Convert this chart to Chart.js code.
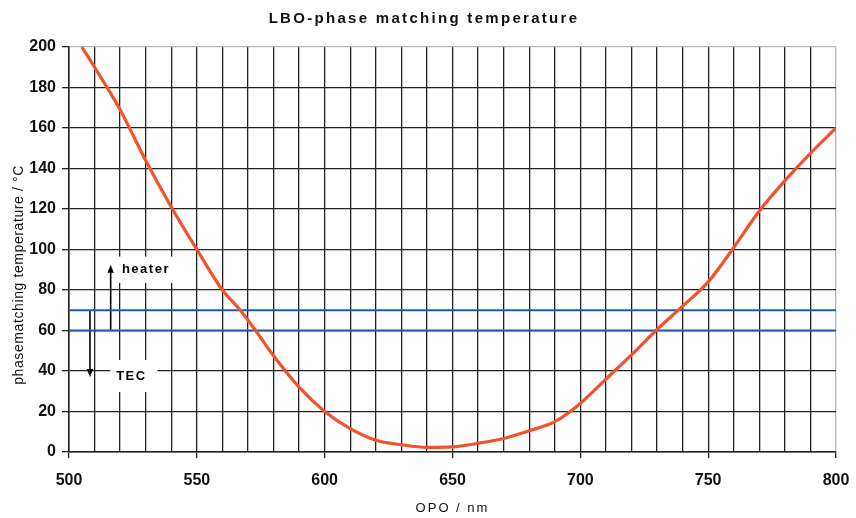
<!DOCTYPE html>
<html>
<head>
<meta charset="utf-8">
<title>LBO-phase matching temperature</title>
<script src="https://cdn.jsdelivr.net/npm/chart.js@4.4.1/dist/chart.umd.min.js"></script>
<style>
    body{ margin:0; background:#fff; }
    #wrap{ width:856px; height:518px; position:relative; }
</style>
</head>
<body>
<div id="wrap"><canvas id="lboChart"></canvas></div>
<script>

// ======================================
// DATA
// ======================================

let wavelength = [505,510,520,530,540,550,560,567,573,580,590,600,610,620,630,640,650,660,670,680,690,700,710,720,730,740,750,760,770,780,790,800];
let temperature = [200,190,169,144,121,100,80,70,60,47.5,32,20,11.5,5.8,3.6,2.3,2.5,4.3,6.7,10.5,15,24,36,48,60.5,72,84,101,119,134,147.5,160];

let limitLow = [60,60];
let limitHigh = [70,70];
let limitRange = [500,800];

let xTicks = [500,550,600,650,700,750,800];

let titleText = "LBO-phase matching temperature";
let xTitle = "OPO / nm";
let yTitle = "phasematching temperature / \u00B0C";

let gridDark = "#222";
let gridLight = "#b4b4b4";


// ======================================
// TEXT + ANNOTATION PLUGIN
// ======================================

function arrow(ctx, x, y1, y2){
    let dir = y2 < y1 ? -1 : 1;
    ctx.beginPath();
    ctx.moveTo(x, y1);
    ctx.lineTo(x, y2 - dir*6);
    ctx.stroke();
    ctx.beginPath();
    ctx.moveTo(x, y2);
    ctx.lineTo(x-3.2, y2 - dir*8);
    ctx.lineTo(x+3.2, y2 - dir*8);
    ctx.closePath();
    ctx.fill();
}

let labelPlugin = {

    id:"labelPlugin",

    beforeDatasetsDraw(chart){

        let ctx = chart.ctx;
        let xs = chart.scales.x;
        let ys = chart.scales.y;

        ctx.save();

        // white boxes behind the notes
        ctx.fillStyle = "#fff";
        ctx.fillRect(xs.getPixelForValue(518), ys.getPixelForValue(96.5),
            xs.getPixelForValue(541.8)-xs.getPixelForValue(518), ys.getPixelForValue(83.5)-ys.getPixelForValue(96.5));
        ctx.fillRect(xs.getPixelForValue(516.2), ys.getPixelForValue(45.4),
            xs.getPixelForValue(534.6)-xs.getPixelForValue(516.2), ys.getPixelForValue(29.6)-ys.getPixelForValue(45.4));

        ctx.strokeStyle = "#000";
        ctx.fillStyle = "#000";
        ctx.lineWidth = 1.6;

        arrow(ctx, xs.getPixelForValue(516.3), ys.getPixelForValue(60), ys.getPixelForValue(92.5));
        arrow(ctx, xs.getPixelForValue(508.2), ys.getPixelForValue(70), ys.getPixelForValue(37));

        ctx.font = "bold 13px 'Liberation Sans', Arial, sans-serif";
        ctx.letterSpacing = "1.5px";
        ctx.textBaseline = "middle";
        ctx.textAlign = "left";
        ctx.fillText("heater", xs.getPixelForValue(520.7), ys.getPixelForValue(90));
        ctx.textAlign = "center";
        ctx.fillText("TEC", xs.getPixelForValue(524.4), ys.getPixelForValue(37.5));

        ctx.restore();

    },

    afterDraw(chart){

        let ctx = chart.ctx;
        let area = chart.chartArea;

        ctx.save();
        ctx.fillStyle = "#111";
        ctx.textAlign = "center";
        ctx.textBaseline = "middle";

        ctx.font = "bold 15px 'Liberation Sans', Arial, sans-serif";
        ctx.letterSpacing = "2.3px";
        ctx.fillText(titleText, 424, 19);

        ctx.font = "13px 'Liberation Sans', Arial, sans-serif";
        ctx.letterSpacing = "2px";
        ctx.fillText(xTitle, (area.left+area.right)/2, 508);

        ctx.translate(19, 275);
        ctx.rotate(-Math.PI/2);
        ctx.font = "14px 'Liberation Sans', Arial, sans-serif";
        ctx.letterSpacing = "0.6px";
        ctx.fillText(yTitle, 0, 0);

        ctx.restore();

    }

};


// ======================================
// CHART
// ======================================

new Chart(document.getElementById("lboChart"),{

    type:"line",

    data:{

        datasets:[
            {
                data:wavelength.map(function(w,i){ return {x:w, y:temperature[i]}; }),
                borderColor:"#f2532d",
                borderWidth:3.2,
                pointRadius:0,
                cubicInterpolationMode:"monotone",
                fill:false
            },
            {
                data:limitRange.map(function(w,i){ return {x:w, y:limitHigh[i]}; }),
                borderColor:"#1f5cae",
                borderWidth:2.2,
                pointRadius:0
            },
            {
                data:limitRange.map(function(w,i){ return {x:w, y:limitLow[i]}; }),
                borderColor:"#1f5cae",
                borderWidth:2.2,
                pointRadius:0
            }
        ]

    },

    options:{

        responsive:true,
        maintainAspectRatio:false,
        animation:false,

        layout:{
            padding:{ top:47, right:20, left:0, bottom:0 }
        },

        plugins:{
            legend:{ display:false },
            tooltip:{ enabled:false }
        },

        scales:{

            x:{
                type:"linear",
                min:500,
                max:800,
                afterFit:function(scale){
                    scale.height = 66;
                    scale.paddingRight = 0;
                    scale.paddingLeft = 0;
                },
                ticks:{
                    stepSize:10,
                    autoSkip:false,
                    maxRotation:0,
                    padding:13,
                    color:"#111",
                    font:{ family:"'Liberation Sans', Arial", size:16, weight:"bold" },
                    callback:function(v){ return xTicks.includes(v) ? v : ""; }
                },
                grid:{
                    color:function(c){ return c.tick && c.tick.value==800 ? gridLight : gridDark; },
                    lineWidth:1.3,
                    tickLength:6,
                    tickColor:function(c){ return c.tick && xTicks.includes(c.tick.value) ? gridDark : "rgba(0,0,0,0)"; }
                },
                border:{ color:gridDark, width:1.5 }
            },

            y:{
                min:0,
                max:200,
                afterFit:function(scale){ scale.width = 69; },
                ticks:{
                    stepSize:20,
                    padding:6,
                    color:"#111",
                    font:{ family:"'Liberation Sans', Arial", size:16, weight:"bold" }
                },
                grid:{
                    color:function(c){ return c.tick && c.tick.value==200 ? gridLight : gridDark; },
                    lineWidth:1.3,
                    tickLength:7,
                    tickColor:gridDark
                },
                border:{ color:gridDark, width:1.5 }
            }

        }

    },

    plugins:[labelPlugin]

});

</script>
</body>
</html>
